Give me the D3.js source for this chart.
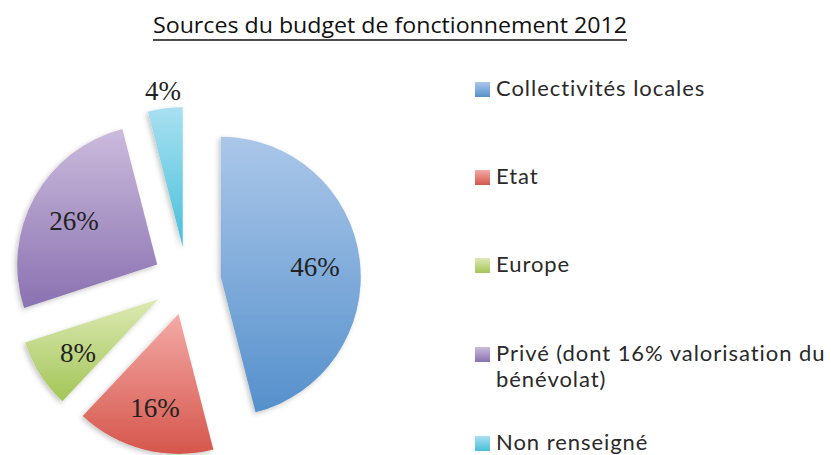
<!DOCTYPE html>
<html>
<head>
<meta charset="utf-8">
<script src="https://cdn.jsdelivr.net/npm/d3@7"></script>
<style>
  body { margin: 0; background: #fff; }
</style>
</head>
<body>
<svg id="chart" width="831" height="455"></svg>
<script>
// data
const categories = ["Collectivités locales", "Etat", "Europe", "Privé (dont 16% valorisation du bénévolat)", "Non renseigné"];
const legendLines = [["Collectivités locales"], ["Etat"], ["Europe"], ["Privé (dont 16% valorisation du", "bénévolat)"], ["Non renseigné"]];
const values = [46, 16, 8, 26, 4];
const colorsTop = ["#abc7e9", "#f4aaa6", "#dde9b3", "#cbbbdc", "#a9e0f1"];
const colorsBottom = ["#5590cc", "#d5564c", "#a3c658", "#8a71b1", "#47c0da"];

const svg = d3.select("#chart"),
      width = +svg.attr("width"),
      height = +svg.attr("height");

const cx = 187, cy = 281, radius = 140, explode = 34;

const defs = svg.append("defs");

// soft shadow
const shadow = defs.append("filter")
    .attr("id", "shadow")
    .attr("x", "-20%").attr("y", "-20%")
    .attr("width", "140%").attr("height", "140%");
shadow.append("feDropShadow")
    .attr("dx", -2).attr("dy", 2)
    .attr("stdDeviation", 2.5)
    .attr("flood-color", "#000")
    .attr("flood-opacity", 0.22);

// vertical gradients
categories.forEach(function(c, i) {
    const g = defs.append("linearGradient")
        .attr("id", "grad" + i)
        .attr("x1", 0).attr("y1", 0)
        .attr("x2", 0).attr("y2", 1);
    g.append("stop").attr("offset", "0%").attr("stop-color", colorsTop[i]);
    g.append("stop").attr("offset", "100%").attr("stop-color", colorsBottom[i]);
});

// title
svg.append("text")
    .attr("x", 390)
    .attr("y", 33)
    .attr("text-anchor", "middle")
    .attr("textLength", 474)
    .attr("lengthAdjust", "spacingAndGlyphs")
    .style("font-family", "'Open Sans', 'Noto Sans', sans-serif")
    .style("font-size", "21px")
    .style("fill", "#111")
    .text("Sources du budget de fonctionnement 2012");
svg.append("line")
    .attr("x1", 153).attr("x2", 627)
    .attr("y1", 40).attr("y2", 40)
    .style("stroke", "#111")
    .style("stroke-width", 1.6);

// pie
const pie = d3.pie().sort(null).value(function(d) { return d; });
const arcs = pie(values);
const arc = d3.arc().innerRadius(0).outerRadius(radius);

const g = svg.append("g").attr("transform", "translate(" + cx + "," + cy + ")");

const slices = g.selectAll("g.slice")
    .data(arcs)
    .enter()
    .append("g")
    .attr("class", "slice")
    .attr("transform", function(d) {
        const a = (d.startAngle + d.endAngle) / 2;
        return "translate(" + (Math.sin(a) * explode) + "," + (-Math.cos(a) * explode) + ")";
    });

slices.append("path")
    .attr("d", arc)
    .attr("fill", function(d, i) { return "url(#grad" + i + ")"; })
    .attr("filter", "url(#shadow)");

// labels (small slice gets its label outside)
slices.append("text")
    .attr("transform", function(d) {
        const a = (d.startAngle + d.endAngle) / 2;
        const outside = d.value < 5;
        const r = outside ? radius + 18 : 95;
        return "translate(" + (Math.sin(a) * r) + "," + (-Math.cos(a) * r + (outside ? 0 : 2)) + ")";
    })
    .attr("text-anchor", "middle")
    .attr("dy", "0.35em")
    .style("font-family", "'Liberation Serif', 'DejaVu Serif', serif")
    .style("font-size", "27px")
    .style("fill", "#222")
    .text(function(d) { return d.value + "%"; });

// legend
const legendY = [82, 170, 258, 347, 436];
const legend = svg.append("g")
    .selectAll("g")
    .data(categories)
    .enter()
    .append("g")
    .attr("transform", function(d, i) { return "translate(475," + legendY[i] + ")"; });

legend.append("rect")
    .attr("width", 15)
    .attr("height", 15)
    .attr("fill", function(d, i) { return "url(#grad" + i + ")"; });

legend.append("text")
    .style("font-family", "Lato, 'Open Sans', sans-serif")
    .style("font-size", "22px")
    .style("letter-spacing", "0.95px")
    .style("fill", "#2a2a2a")
    .selectAll("tspan")
    .data(function(d, i) { return legendLines[i]; })
    .enter()
    .append("tspan")
    .attr("x", 21)
    .attr("y", function(d, j) { return 14 + j * 26; })
    .text(function(d) { return d; });
</script>
</body>
</html>
